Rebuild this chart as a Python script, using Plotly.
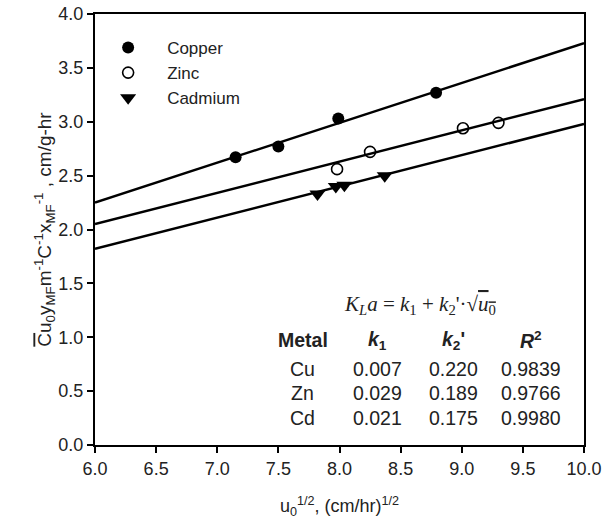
import plotly.graph_objects as go

# ---- data ----
cu_x = [7.15, 7.50, 7.99, 8.79]
cu_y = [2.67, 2.77, 3.03, 3.27]
zn_x = [7.98, 8.25, 9.01, 9.30]
zn_y = [2.56, 2.72, 2.94, 2.99]
cd_x = [7.82, 7.97, 8.04, 8.37]
cd_y = [2.33, 2.40, 2.41, 2.50]

fit_x = [6.0, 10.0]
cu_fit = [2.25, 3.73]
zn_fit = [2.05, 3.21]
cd_fit = [1.82, 2.98]

metals = ["Cu", "Zn", "Cd"]
k1_vals = ["0.007", "0.029", "0.021"]
k2_vals = ["0.220", "0.189", "0.175"]
r2_vals = ["0.9839", "0.9766", "0.9980"]
table_headers = ["Metal", "<i>k</i><sub>1</sub>", "<i>k</i><sub>2</sub>'", "<i>R</i><sup>2</sup>"]

x_ticks = [6.0, 6.5, 7.0, 7.5, 8.0, 8.5, 9.0, 9.5, 10.0]
y_ticks = [0.0, 0.5, 1.0, 1.5, 2.0, 2.5, 3.0, 3.5, 4.0]

FONT = "Liberation Sans, Arial, sans-serif"
TXT = "#222222"

fig = go.Figure()

for fy in (cu_fit, zn_fit, cd_fit):
    fig.add_trace(go.Scatter(x=fit_x, y=fy, mode="lines",
                             line=dict(color="black", width=2.5),
                             showlegend=False, hoverinfo="skip"))

fig.add_trace(go.Scatter(x=cu_x, y=cu_y, mode="markers", name="Copper",
                         legendgroup="a",
                         marker=dict(symbol="circle", size=12, color="black")))
fig.add_trace(go.Scatter(x=zn_x, y=zn_y, mode="markers", name="Zinc",
                         legendgroup="b",
                         marker=dict(symbol="circle-open", size=11, color="black",
                                     line=dict(width=1.6, color="black"))))
fig.add_trace(go.Scatter(x=cd_x, y=cd_y, mode="markers", name="Cadmium",
                         legendgroup="c",
                         marker=dict(symbol="triangle-down", size=14, color="black")))

annotations = []
# equation
annotations.append(dict(
    x=8.66, y=1.30, xref="x", yref="y", showarrow=False,
    text="<i>K</i><sub><i>L</i></sub><i>a</i> = <i>k</i><sub>1</sub> + <i>k</i><sub>2</sub>'·√<span style='text-decoration:overline'><i>u</i><sub>0</sub></span>",
    font=dict(family="Liberation Serif, Times New Roman, serif", size=21, color=TXT)))

col_x = [7.70, 8.31, 8.93, 9.57]
header_y = 0.97
row_y = [0.71, 0.48, 0.255]
for cx, h in zip(col_x, table_headers):
    annotations.append(dict(x=cx, y=header_y, xref="x", yref="y", showarrow=False,
                            text="<b>" + h + "</b>",
                            font=dict(family=FONT, size=19.5, color=TXT)))
for i in range(len(metals)):
    for cx, v in zip(col_x, [metals[i], k1_vals[i], k2_vals[i], r2_vals[i]]):
        annotations.append(dict(x=cx, y=row_y[i], xref="x", yref="y", showarrow=False,
                                text=v, font=dict(family=FONT, size=19.5, color=TXT)))

fig.update_layout(
    width=605, height=519,
    margin=dict(l=95, r=21, t=14, b=74),
    paper_bgcolor="white", plot_bgcolor="white",
    font=dict(family=FONT, size=16, color=TXT),
    showlegend=True,
    legend=dict(x=-0.012, y=0.963, xanchor="left", yanchor="top",
                bgcolor="rgba(0,0,0,0)", font=dict(size=17, family=FONT, color=TXT),
                itemwidth=68, tracegroupgap=10, traceorder="normal"),
    annotations=annotations,
    xaxis=dict(range=[6.0, 10.0], tickvals=x_ticks,
               ticktext=[f"{v:.1f}" for v in x_ticks],
               showgrid=False, zeroline=False, automargin=False,
               showline=True, linecolor="black", linewidth=2, mirror=True,
               ticks="outside", ticklen=6, tickwidth=1.5, tickcolor="black",
               tickfont=dict(size=18, color=TXT),
               title=dict(text="u<sub>0</sub><sup>1/2</sup>, (cm/hr)<sup>1/2</sup>",
                          font=dict(size=18, color=TXT), standoff=24)),
    yaxis=dict(range=[0.0, 4.0], tickvals=y_ticks,
               ticktext=[f"{v:.1f}" for v in y_ticks],
               showgrid=False, zeroline=False, automargin=False,
               showline=True, linecolor="black", linewidth=2, mirror=True,
               ticks="outside", ticklen=6, tickwidth=1.5, tickcolor="black",
               tickfont=dict(size=18, color=TXT),
               title=dict(text="<span style='text-decoration:overline'>C</span>u<sub>0</sub>y<sub>MF</sub>m<sup>-1</sup>C<sup>-1</sup>x<sub>MF</sub><sup>-1</sup> , cm/g-hr",
                          font=dict(size=19, color=TXT), standoff=1)),
)

fig.write_html("out.html")
